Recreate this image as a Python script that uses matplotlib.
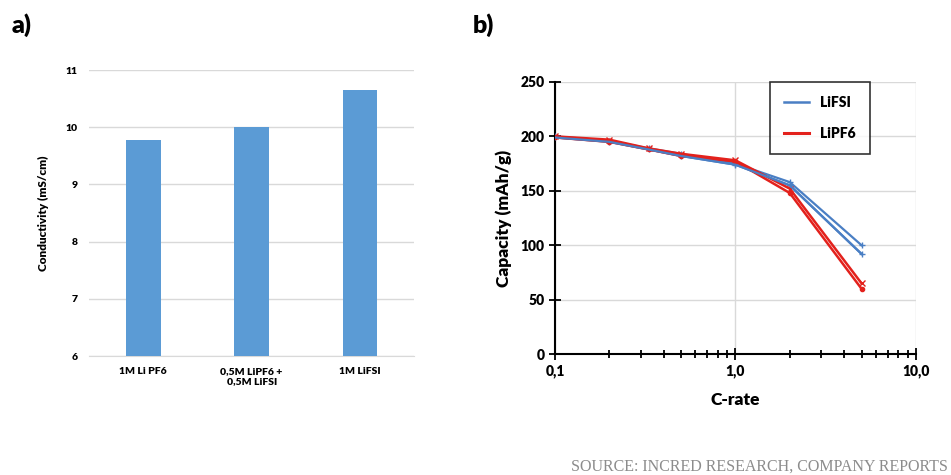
import matplotlib.pyplot as plt
from matplotlib.lines import Line2D
from matplotlib.ticker import FixedLocator, FuncFormatter, LogLocator, NullFormatter

plt.rcParams['font.family'] = ['Lato', 'DejaVu Sans']

# panel a) conductivity
electrolytes = ['1M Li PF6', '0,5M LiPF6 +\n0,5M LiFSI', '1M LiFSI']
conductivity = [9.77, 10.0, 10.65]

# panel b) rate capability, two cells per electrolyte
c_rate = [0.1, 0.2, 0.33, 0.5, 1.0, 2.0, 5.0]
lifsi_1 = [200, 196, 189, 184, 175, 158, 100]
lifsi_2 = [199, 195, 188, 182, 174, 155, 92]
lipf6_1 = [200, 197, 189, 184, 178, 152, 65]
lipf6_2 = [199, 195, 188, 182, 177, 148, 60]

blue = '#4a7fc4'
red = '#e3211c'

fig = plt.figure(figsize=(9.51, 4.75), dpi=100)

# ---- a) ----
ax1 = fig.add_axes([0.0936, 0.2505, 0.342, 0.602])
ax1.bar(range(len(electrolytes)), conductivity, width=0.32, color='#5b9bd5', zorder=3)
ax1.set_xlim(-0.5, 2.5)
ax1.set_ylim(6, 11)
ax1.set_yticks([6, 7, 8, 9, 10, 11])
ax1.yaxis.grid(True, color='#d9d9d9', linewidth=1, zorder=0)
for s in ['top', 'right', 'left']:
    ax1.spines[s].set_visible(False)
ax1.spines['bottom'].set_color('#d9d9d9')
ax1.tick_params(axis='both', length=0, labelsize=7.5, pad=8)
ax1.set_xticks(range(len(electrolytes)))
ax1.set_xticklabels(electrolytes, fontweight='heavy')
for t in ax1.get_yticklabels():
    t.set_fontweight('heavy')
ax1.set_ylabel('Conductivity (mS/cm)', fontsize=8.5, fontweight='heavy', labelpad=12)
fig.text(0.012, 0.93, 'a)', fontsize=18, fontweight='heavy')

# ---- b) ----
ax2 = fig.add_axes([0.5836, 0.2547, 0.3794, 0.5727])
ax2.plot(c_rate, lifsi_1, color=blue, lw=1.6, marker='+', ms=5, zorder=3)
ax2.plot(c_rate, lifsi_2, color=blue, lw=1.6, marker='+', ms=5, zorder=3)
ax2.plot(c_rate, lipf6_1, color=red, lw=1.8, marker='x', ms=4, zorder=4)
ax2.plot(c_rate, lipf6_2, color=red, lw=1.8, marker='o', ms=3, zorder=4)
ax2.plot(c_rate, lifsi_2, color=blue, lw=1.6, zorder=5)
ax2.set_xscale('log')
ax2.set_xlim(0.1, 10)
ax2.set_ylim(0, 250)
ax2.set_yticks(range(0, 251, 50))
ax2.xaxis.set_major_locator(FixedLocator([0.1, 1.0, 10.0]))
ax2.xaxis.set_major_formatter(FuncFormatter(lambda v, p: f'{v:.1f}'.replace('.', ',')))
ax2.xaxis.set_minor_locator(LogLocator(base=10, subs=range(2, 10)))
ax2.xaxis.set_minor_formatter(NullFormatter())
ax2.grid(True, which='major', color='#d9d9d9', linewidth=1, zorder=0)
ax2.spines['top'].set_visible(False)
ax2.spines['right'].set_visible(False)
ax2.spines['left'].set_linewidth(1.5)
ax2.spines['bottom'].set_linewidth(1.5)
ax2.tick_params(axis='both', which='major', direction='inout', length=8, width=1.3, labelsize=10)
ax2.tick_params(axis='x', which='minor', direction='inout', length=6, width=1.3)
for t in ax2.get_xticklabels() + ax2.get_yticklabels():
    t.set_fontweight('heavy')
ax2.set_ylabel('Capacity (mAh/g)', fontsize=12.5, fontweight='heavy', labelpad=6)
ax2.set_xlabel('C-rate', fontsize=12.5, fontweight='heavy', labelpad=10)
handles = [Line2D([], [], color=blue, lw=1.8), Line2D([], [], color=red, lw=2.2)]
leg = ax2.legend(handles, ['LiFSI', 'LiPF6'], loc='upper right', bbox_to_anchor=(0.873, 1.0),
                 borderaxespad=0, fancybox=False, edgecolor='black', handlelength=1.8,
                 labelspacing=1.3, borderpad=1.0, prop={'weight': 'heavy', 'size': 10})
leg.get_frame().set_linewidth(1.2)
fig.text(0.497, 0.93, 'b)', fontsize=18, fontweight='heavy')

fig.text(0.997, 0.0, 'SOURCE: INCRED RESEARCH, COMPANY REPORTS', ha='right', va='bottom',
         fontsize=11.5, color='#8c8c8c', family=['Liberation Serif', 'DejaVu Serif'])

fig.savefig('out.png', dpi=100)
